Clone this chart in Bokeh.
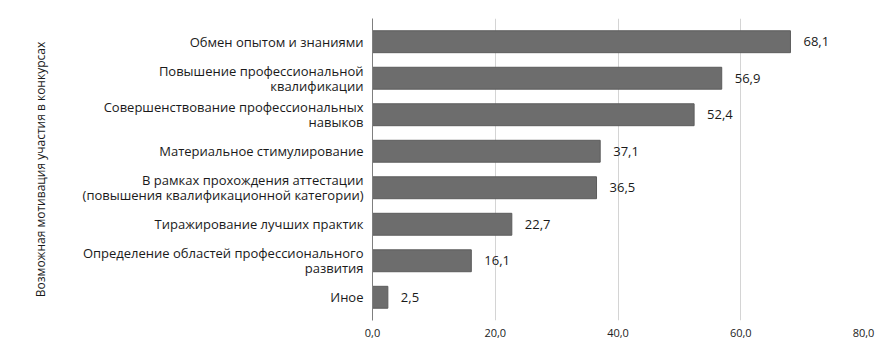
from bokeh.plotting import figure
from bokeh.models import ColumnDataSource, FixedTicker, Range1d
from bokeh.core.properties import value
from bokeh.embed import file_html
from bokeh.resources import INLINE

categories = [
    "Обмен опытом и знаниями",
    "Повышение профессиональной\nквалификации",
    "Совершенствование профессиональных\nнавыков",
    "Материальное стимулирование",
    "В рамках прохождения аттестации\n(повышения квалификационной категории)",
    "Тиражирование лучших практик",
    "Определение областей профессионального\nразвития",
    "Иное",
]
values = [68.1, 56.9, 52.4, 37.1, 36.5, 22.7, 16.1, 2.5]
value_labels = ["68,1", "56,9", "52,4", "37,1", "36,5", "22,7", "16,1", "2,5"]
x_ticks = [0, 20, 40, 60, 80]
x_tick_labels = ["0,0", "20,0", "40,0", "60,0", "80,0"]
y_title = "Возможная мотивация участия в конкурсах"

FONT = "Open Sans"

src = ColumnDataSource(dict(cat=categories, val=values, lab=value_labels))

p = figure(width=878, height=340, output_backend="svg", toolbar_location=None,
           y_range=list(reversed(categories)), x_range=Range1d(0, 80),
           min_border_left=372, min_border_right=15, min_border_top=18, min_border_bottom=20)
p.outline_line_color = None
p.background_fill_color = "white"
p.border_fill_color = "white"

p.hbar(y="cat", right="val", left=0, height=0.6, source=src,
       fill_color="#6d6d6d", line_color="#5c5c5c", line_width=1)

p.text(x="val", y="cat", text="lab", source=src, x_offset=13,
       text_baseline="middle", text_align="left", text_font=value(FONT),
       text_font_size="13px", text_color="#1a1a1a")

# x axis
p.xaxis.ticker = FixedTicker(ticks=x_ticks)
p.xaxis.major_label_overrides = {t: l for t, l in zip(x_ticks, x_tick_labels)}
p.xaxis.axis_line_color = None
p.xaxis.major_tick_line_color = None
p.xaxis.major_tick_out = 0
p.xaxis.minor_tick_line_color = None
p.xaxis.minor_tick_out = 0
p.xaxis.major_label_text_font = FONT
p.xaxis.major_label_text_font_size = "11px"
p.xaxis.major_label_text_color = "#222222"
p.xaxis.major_label_standoff = 8
p.xgrid.ticker = FixedTicker(ticks=[20, 40, 60, 80])
p.xgrid.grid_line_color = "#d4d4d4"
p.ygrid.grid_line_color = None

# y axis
p.yaxis.axis_line_color = "#7f7f7f"
p.yaxis.axis_line_width = 1
p.yaxis.major_tick_line_color = None
p.yaxis.major_tick_out = 0
p.yaxis.minor_tick_line_color = None
p.yaxis.minor_tick_out = 0
p.yaxis.major_label_text_font = FONT
p.yaxis.major_label_text_font_size = "13px"
p.yaxis.major_label_text_color = "#1a1a1a"
p.yaxis.major_label_text_line_height = 0.85
p.yaxis.major_label_standoff = 9
p.yaxis.axis_label = y_title
p.yaxis.axis_label_text_font = FONT
p.yaxis.axis_label_text_font_size = "12px"
p.yaxis.axis_label_text_font_style = "normal"
p.yaxis.axis_label_text_color = "#1a1a1a"
p.yaxis.axis_label_standoff = 31

p.y_range.range_padding = 0.034

open("out.html", "w").write(file_html(p, INLINE))
